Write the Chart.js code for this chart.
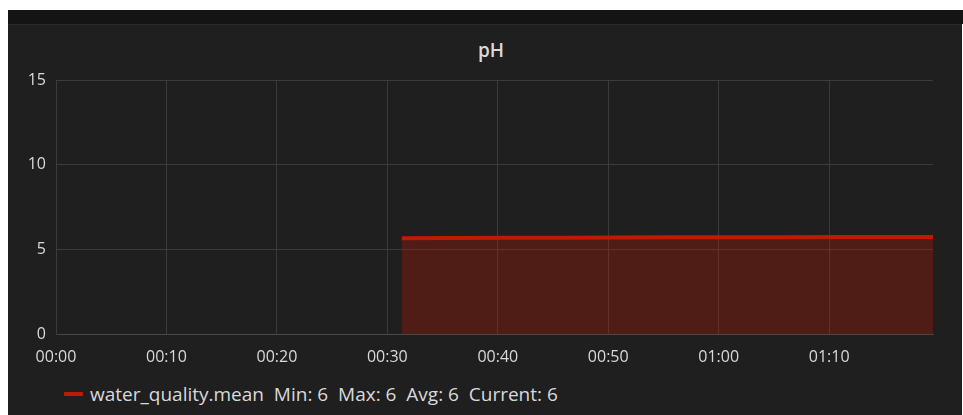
<!DOCTYPE html>
<html>
<head>
<meta charset="utf-8">
<title>pH</title>
<script src="https://cdn.jsdelivr.net/npm/chart.js@4/dist/chart.umd.min.js"></script>
<style>
  html, body { margin: 0; padding: 0; background: #ffffff; width: 963px; height: 415px; overflow: hidden; }
  .topbar { position: absolute; left: 8px; top: 10px; width: 955px; height: 14px; background: #141414; }
  .panel { position: absolute; left: 8px; top: 24px; width: 954px; height: 391px; background: #1f1f20;
           border-top: 1px solid #2a2a2b; box-sizing: border-box; }
  .title { position: absolute; left: 383px; width: 200px; top: 12px; height: 26px; line-height: 26px; text-align: center;
           font-family: "Open Sans", "Noto Sans", sans-serif; font-size: 19px; font-weight: 600; color: #d8d9da; }
  .chart-box { position: absolute; left: 0; top: -1px; width: 954px; height: 345px; }
  .legend { position: absolute; left: 56px; top: 357px; height: 24px; display: flex; align-items: center;
            font-family: "Open Sans", "Noto Sans", sans-serif; font-size: 19px; color: #d8d9da; white-space: pre; }
  .swatch { display: inline-block; width: 19px; height: 4px; background: #bf1b00; margin-right: 7px; border-radius: 1px; }
</style>
</head>
<body>
<div class="topbar"></div>
<div class="panel">
  <div class="title" id="title"></div>
  <div class="chart-box"><canvas id="c"></canvas></div>
  <div class="legend" id="legend"></div>
</div>
<script>
// Minutes since 00:00 and the mean pH at each sample
const minutes = [31.3, 36, 41, 46, 51, 56, 61, 66, 71, 76, 79.4];
const phMean  = [5.66, 5.67, 5.68, 5.69, 5.70, 5.71, 5.72, 5.72, 5.73, 5.73, 5.73];
const seriesName = 'water_quality.mean';
const chartTitle = 'pH';
const yTicks = [0, 5, 10, 15];
const xRange = [0, 79.4];

const GRID = '#3b3b3c';
const TEXT = '#d8d9da';
const RED = '#bf1b00';
const FONT = '"Open Sans", "Noto Sans", sans-serif';

document.getElementById('title').textContent = chartTitle;

const points = minutes.map((m, i) => ({ x: m, y: phMean[i] }));

function hhmm(v) {
  const h = Math.floor(v / 60), m = Math.round(v % 60);
  return String(h).padStart(2, '0') + ':' + String(m).padStart(2, '0');
}

new Chart(document.getElementById('c'), {
  type: 'line',
  data: {
    datasets: [{
      label: seriesName,
      data: points,
      borderColor: RED,
      borderWidth: 4,
      backgroundColor: 'rgba(191,27,0,0.30)',
      fill: 'origin',
      pointRadius: 0,
      tension: 0,
      borderCapStyle: 'butt'
    }]
  },
  options: {
    responsive: true,
    maintainAspectRatio: false,
    animation: false,
    layout: { padding: { top: 56, left: 0, right: 29, bottom: 0 } },
    plugins: {
      legend: { display: false },
      tooltip: { enabled: false },
      title: { display: false }
    },
    scales: {
      x: {
        type: 'linear',
        min: xRange[0],
        max: xRange[1],
        grid: { color: GRID, drawTicks: false },
        border: { color: '#48484a' },
        ticks: {
          stepSize: 10,
          includeBounds: false,
          color: TEXT,
          padding: 14,
          maxRotation: 0,
          font: { family: FONT, size: 16 },
          callback: v => hhmm(v)
        },
        afterFit: s => { s.height = 35; }
      },
      y: {
        min: yTicks[0],
        max: yTicks[yTicks.length - 1],
        grid: { color: GRID, drawTicks: false },
        border: { color: GRID },
        ticks: {
          stepSize: 5,
          color: TEXT,
          padding: 10,
          font: { family: FONT, size: 16 }
        },
        afterFit: s => { s.width = 48; }
      }
    }
  }
});

// Legend with summary values derived from the series
const minV = Math.min(...phMean), maxV = Math.max(...phMean);
const avgV = phMean.reduce((a, b) => a + b, 0) / phMean.length;
const curV = phMean[phMean.length - 1];
const fmt = v => String(Math.round(v));
const legend = document.getElementById('legend');
const sw = document.createElement('span');
sw.className = 'swatch';
legend.appendChild(sw);
legend.appendChild(document.createTextNode(
  seriesName + '  Min: ' + fmt(minV) + '  Max: ' + fmt(maxV) + '  Avg: ' + fmt(avgV) + '  Current: ' + fmt(curV)
));
</script>
</body>
</html>
